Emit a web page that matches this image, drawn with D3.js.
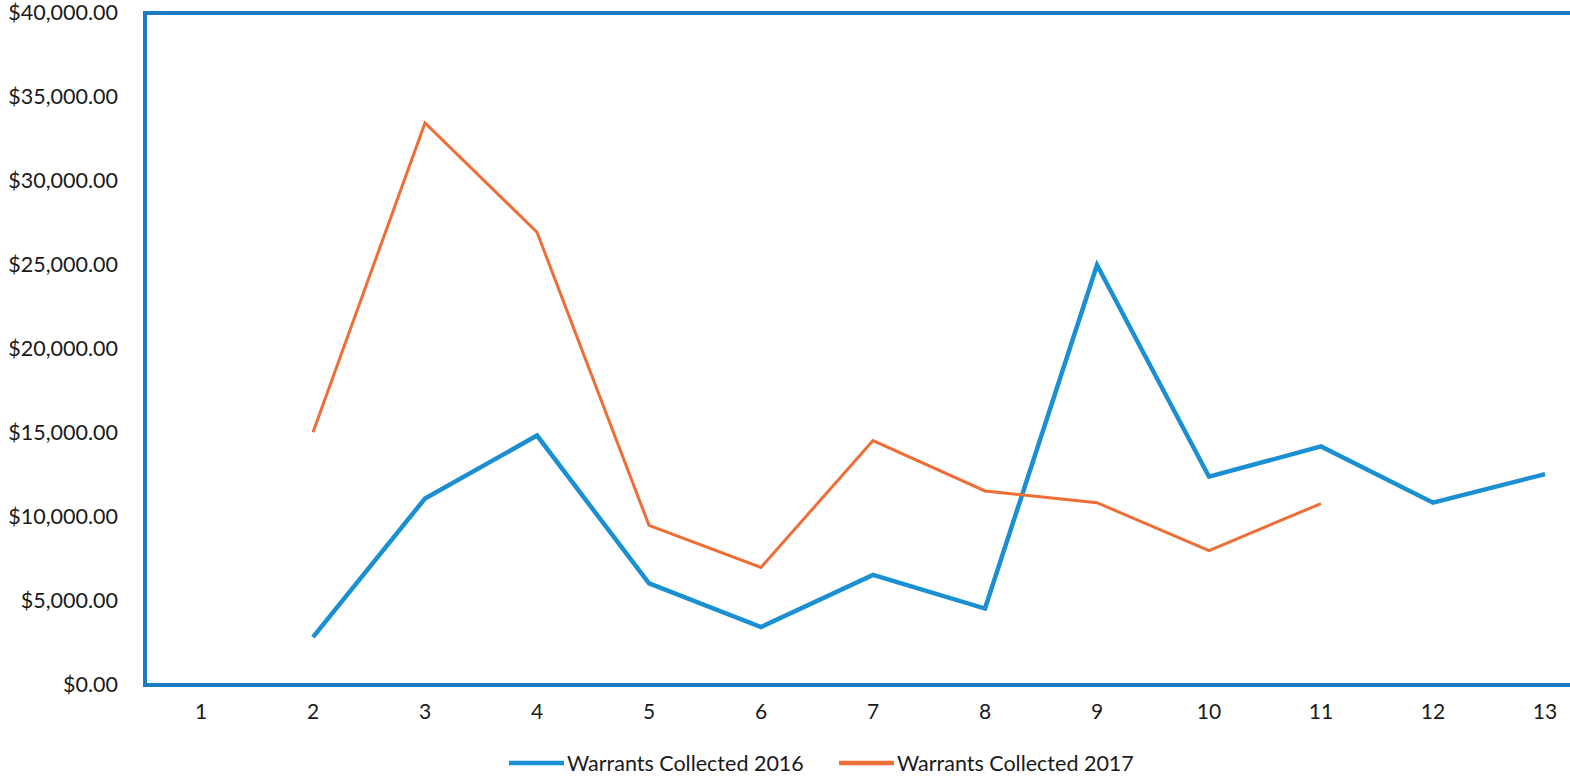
<!DOCTYPE html>
<html>
<head>
<meta charset="utf-8">
<script src="https://cdn.jsdelivr.net/npm/d3@7"></script>
<style>
  body { margin: 0; background: #fff; }
  text { font-family: Lato, "Noto Sans", sans-serif; fill: #1a1a1a; }
</style>
</head>
<body>
<div id="chart"></div>
<script>
// chart size and plot box
const width = 1570;
const height = 778;
const margin = {left: 145, right: -31, top: 13, bottom: 93};

// data
const months = [1, 2, 3, 4, 5, 6, 7, 8, 9, 10, 11, 12, 13];
const collected2016 = [null, 2850, 11100, 14850, 6050, 3450, 6550, 4550, 25000, 12400, 14200, 10850, 12550];
const collected2017 = [null, 15050, 33450, 26950, 9500, 7000, 14550, 11550, 10850, 8000, 10800, null, null];
const yTicks = [0, 5000, 10000, 15000, 20000, 25000, 30000, 35000, 40000];
const seriesNames = ["Warrants Collected 2016", "Warrants Collected 2017"];
const seriesColors = ["#1a8fd2", "#ee6e35"];

const svg = d3.select("#chart")
  .append("svg")
  .attr("width", width)
  .attr("height", height);

// x is a band per month, y runs 0 - 40k
const x = d3.scaleBand()
  .domain(months)
  .range([margin.left, width - margin.right]);

const y = d3.scaleLinear()
  .domain([0, 40000])
  .range([height - margin.bottom, margin.top]);

const money = d3.format("$,.2f");

// y labels
svg.append("g")
  .attr("transform", `translate(${margin.left - 27},0)`)
  .call(d3.axisLeft(y).tickValues(yTicks).tickFormat(money).tickSize(0).tickPadding(0))
  .call(g => g.select(".domain").remove())
  .selectAll("text")
    .attr("font-size", "21.5px")
    .style("font-family", "Lato, sans-serif")
    .attr("fill", "#1a1a1a");

// x labels
svg.append("g")
  .attr("transform", `translate(0,${height - margin.bottom + 19})`)
  .call(d3.axisBottom(x).tickSize(0).tickPadding(0))
  .call(g => g.select(".domain").remove())
  .selectAll("text")
    .attr("font-size", "21px")
    .style("font-family", "Lato, sans-serif")
    .attr("fill", "#1a1a1a");

// blue frame: left, top and bottom edges (right edge is off the page)
const x0 = margin.left, x1 = width + 5;
const yTop = y(40000), yBot = y(0);
const frame = svg.append("g")
  .attr("stroke", "#1c7cc6")
  .attr("stroke-width", 4);
frame.append("line").attr("x1", x0).attr("x2", x0).attr("y1", yTop - 2).attr("y2", yBot + 2);
frame.append("line").attr("x1", x0).attr("x2", x1).attr("y1", yTop).attr("y2", yTop);
frame.append("line").attr("x1", x0).attr("x2", x1).attr("y1", yBot).attr("y2", yBot);

// the two lines
const line = d3.line()
  .defined(d => d.v != null)
  .x(d => x(d.m) + x.bandwidth() / 2)
  .y(d => y(d.v));

[collected2016, collected2017].forEach((vals, i) => {
  svg.append("path")
    .datum(months.map((m, j) => ({m: m, v: vals[j]})))
    .attr("fill", "none")
    .attr("stroke", seriesColors[i])
    .attr("stroke-width", i == 0 ? 4.5 : 3)
    .attr("stroke-linejoin", "miter")
    .attr("d", line);
});

// legend
const legendX = [509, 839];
const legend = svg.append("g");
seriesNames.forEach((name, i) => {
  legend.append("line")
    .attr("x1", legendX[i]).attr("x2", legendX[i] + 55)
    .attr("y1", 763).attr("y2", 763)
    .attr("stroke", seriesColors[i])
    .attr("stroke-width", 4.5);
  legend.append("text")
    .attr("x", legendX[i] + 58)
    .attr("y", 763)
    .attr("dy", "0.35em")
    .attr("font-size", "21.5px")
    .text(name);
});
</script>
</body>
</html>
